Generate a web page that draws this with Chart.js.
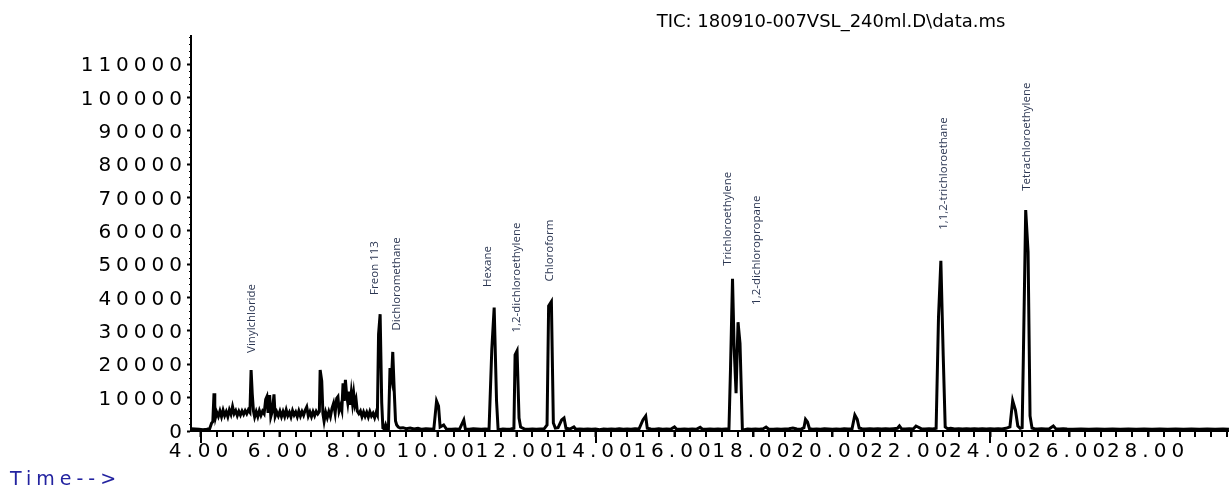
<!DOCTYPE html>
<html>
<head>
<meta charset="utf-8">
<title>TIC: 180910-007VSL_240ml.D\data.ms</title>
<script src="https://cdn.jsdelivr.net/npm/chart.js@4.4.1/dist/chart.umd.min.js"></script>
<style>
	html, body { margin: 0; padding: 0; background: #fff; }
	#tic { display: block; }
</style>
</head>
<body>
<canvas id="tic" width="1229" height="486"></canvas>
<script>
	// retention time (min) and total ion current
	const RT = [
		3.75, 3.85, 3.95, 4.05, 4.15, 4.22, 4.27, 4.30, 4.33, 4.35,
		4.37, 4.40, 4.44, 4.48, 4.52, 4.56, 4.60, 4.64, 4.68, 4.72,
		4.76, 4.80, 4.84, 4.88, 4.92, 4.96, 5.00, 5.04, 5.08, 5.12,
		5.16, 5.20, 5.24, 5.27, 5.30, 5.33, 5.36, 5.40, 5.44, 5.48,
		5.52, 5.56, 5.60, 5.64, 5.67, 5.70, 5.74, 5.77, 5.81, 5.85,
		5.88, 5.92, 5.96, 6.00, 6.04, 6.08, 6.12, 6.16, 6.20, 6.24,
		6.28, 6.32, 6.36, 6.40, 6.44, 6.48, 6.52, 6.56, 6.60, 6.64,
		6.68, 6.72, 6.76, 6.80, 6.84, 6.88, 6.92, 6.96, 7.00, 7.02,
		7.06, 7.09, 7.12, 7.16, 7.20, 7.24, 7.28, 7.32, 7.36, 7.40,
		7.44, 7.47, 7.50, 7.54, 7.57, 7.60, 7.63, 7.66, 7.69, 7.72,
		7.75, 7.78, 7.81, 7.84, 7.87, 7.90, 7.93, 7.96, 8.00, 8.04,
		8.08, 8.12, 8.16, 8.20, 8.24, 8.28, 8.32, 8.36, 8.40, 8.44,
		8.47, 8.50, 8.54, 8.58, 8.61, 8.65, 8.68, 8.71, 8.75, 8.79,
		8.83, 8.86, 8.90, 8.93, 8.96, 9.00, 9.05, 9.12, 9.20, 9.30,
		9.40, 9.50, 9.60, 9.70, 9.80, 9.90, 9.97, 10.02, 10.06, 10.15,
		10.22, 10.35, 10.45, 10.55, 10.66, 10.70, 10.80, 10.90, 11.00, 11.10,
		11.20, 11.30, 11.37, 11.43, 11.49, 11.53, 11.65, 11.75, 11.85, 11.93,
		11.96, 12.01, 12.06, 12.10, 12.20, 12.30, 12.40, 12.50, 12.60, 12.70,
		12.77, 12.81, 12.88, 12.93, 12.98, 13.05, 13.14, 13.20, 13.25, 13.35,
		13.45, 13.50, 13.60, 13.70, 13.80, 13.90, 14.00, 14.10, 14.20, 14.30,
		14.40, 14.50, 14.60, 14.70, 14.80, 14.90, 15.00, 15.10, 15.20, 15.27,
		15.31, 15.40, 15.50, 15.60, 15.70, 15.80, 15.90, 16.00, 16.05, 16.15,
		16.25, 16.35, 16.45, 16.55, 16.65, 16.70, 16.80, 16.90, 17.00, 17.10,
		17.20, 17.30, 17.38, 17.42, 17.47, 17.51, 17.56, 17.61, 17.66, 17.72,
		17.77, 17.85, 17.95, 18.05, 18.15, 18.25, 18.32, 18.38, 18.50, 18.60,
		18.70, 18.80, 18.90, 19.00, 19.10, 19.20, 19.28, 19.32, 19.37, 19.42,
		19.50, 19.60, 19.70, 19.80, 19.90, 20.00, 20.10, 20.20, 20.30, 20.40,
		20.50, 20.57, 20.63, 20.68, 20.75, 20.85, 20.95, 21.05, 21.15, 21.25,
		21.35, 21.45, 21.55, 21.65, 21.70, 21.75, 21.85, 21.95, 22.05, 22.12,
		22.17, 22.25, 22.35, 22.45, 22.55, 22.63, 22.69, 22.75, 22.81, 22.86,
		22.92, 23.00, 23.10, 23.20, 23.30, 23.40, 23.50, 23.60, 23.70, 23.80,
		23.90, 24.00, 24.10, 24.20, 24.30, 24.40, 24.50, 24.57, 24.64, 24.70,
		24.76, 24.81, 24.84, 24.90, 24.96, 25.01, 25.06, 25.12, 25.20, 25.30,
		25.40, 25.50, 25.60, 25.66, 25.75, 25.85, 25.95, 26.10, 26.30, 26.50,
		26.70, 26.90, 27.10, 27.30, 27.50, 27.70, 27.90, 28.10, 28.30, 28.50,
		28.70, 28.90, 29.10, 29.30, 29.50, 29.70, 29.90, 30.05
	];
	const TIC = [
		700, 600, 500, 400, 500, 700, 2400, 2800, 11300, 7600,
		4200, 5600, 4400, 6000, 4300, 6200, 4600, 5800, 4300, 6300,
		5000, 7300, 5200, 6100, 4600, 5900, 4800, 6000, 5000, 6100,
		5200, 6300, 5600, 18300, 11000, 6000, 4200, 5800, 4300, 6100,
		4700, 5900, 5200, 9500, 10300, 5400, 10800, 4300, 6000, 11000,
		4400, 5700, 4500, 5900, 4300, 5800, 4400, 6300, 4600, 5600,
		4200, 6100, 4800, 5700, 4300, 6000, 4500, 5800, 4700, 6200,
		7200, 4500, 5700, 4300, 5800, 4600, 5900, 5100, 5800, 18300,
		15000, 5200, 2900, 5600, 4000, 5800, 4300, 6800, 8300, 5400,
		9800, 10300, 6000, 7600, 6200, 14300, 9000, 15300, 11000, 8500,
		11800, 7800, 11500, 8300, 11300, 8000, 9400, 6000, 5200, 6000,
		4300, 5700, 4400, 5600, 4200, 5800, 4500, 5300, 4000, 5600,
		4800, 29000, 35000, 8500, 900, 600, 1800, 700, 500, 18900,
		16000, 23700, 11200, 3000, 1800, 1200, 900, 1000, 700, 900,
		600, 800, 500, 700, 600, 500, 9000, 7500, 1200, 1800,
		600, 500, 600, 500, 3300, 600, 500, 700, 600, 500,
		600, 500, 24500, 37000, 9000, 400, 600, 500, 600, 800,
		22800, 24000, 3900, 1200, 600, 500, 600, 500, 600, 700,
		1800, 37500, 38800, 2400, 900, 1000, 3300, 3900, 800, 600,
		1200, 500, 600, 500, 600, 500, 600, 400, 600, 500,
		600, 500, 700, 500, 600, 500, 700, 600, 3300, 4500,
		800, 600, 500, 700, 500, 600, 500, 1200, 600, 500,
		600, 500, 600, 500, 1100, 600, 500, 600, 500, 600,
		500, 600, 700, 19000, 45600, 25300, 11300, 32600, 26300, 500,
		400, 600, 500, 600, 500, 700, 1200, 600, 500, 600,
		500, 600, 700, 900, 600, 500, 1000, 3500, 2700, 700,
		500, 600, 500, 700, 600, 500, 600, 500, 700, 600,
		700, 4800, 3500, 900, 700, 600, 700, 600, 700, 600,
		700, 600, 700, 800, 1500, 700, 600, 700, 600, 1500,
		1200, 700, 600, 700, 600, 800, 34000, 51000, 22500, 1200,
		700, 800, 600, 700, 600, 700, 600, 700, 600, 700,
		600, 700, 600, 700, 600, 800, 1200, 9100, 6300, 1500,
		800, 1000, 21800, 66200, 53700, 4500, 900, 700, 600, 700,
		600, 700, 1500, 700, 600, 700, 600, 500, 600, 500,
		600, 500, 600, 500, 600, 500, 600, 500, 600, 500,
		600, 500, 600, 500, 600, 500, 600, 500
	];

	// compound annotations: name, retention time, intensity where the label starts
	const PEAK_NAMES = [
		'Vinylchloride', 'Freon 113', 'Dichloromethane', 'Hexane', '1,2-dichloroethylene',
		'Chloroform', 'Trichloroethylene', '1,2-dichloropropane', '1,1,2-trichloroethane', 'Tetrachloroethylene'
	];
	const PEAK_RT = [5.285, 8.41, 8.96, 11.26, 12.0, 12.84, 17.36, 18.08, 22.81, 24.92];
	const PEAK_LABEL_AT = [23400, 40800, 30100, 43200, 29500, 44800, 49500, 37800, 60300, 72000];

	const X_TICKS = [4, 6, 8, 10, 12, 14, 16, 18, 20, 22, 24, 26, 28];
	const Y_TICKS = [0, 10000, 20000, 30000, 40000, 50000, 60000, 70000, 80000, 90000, 100000, 110000];

	const TITLE = 'TIC: 180910-007VSL_240ml.D\\data.ms';
	const X_LABEL = 'Time-->';

	const X_MIN = 3.747, X_MAX = 30.052;
	const Y_MAX = 118400;

	const axisFont = { family: 'DejaVu Sans', size: 20 };

	const chromatogramDecor = {
		id: 'chromatogramDecor',
		beforeDraw(chart) {
			// the instrument font is wide; stretch tick labels a bit
			chart.ctx.letterSpacing = '5px';
		},
		beforeDatasetsDraw(chart) {
			const { ctx, scales: { x, y } } = chart;
			ctx.save();
			ctx.letterSpacing = '0px';
			ctx.strokeStyle = '#000';
			ctx.lineWidth = 2;
			ctx.beginPath();
			// minor time ticks every 0.4 min, long ones every 10 min
			for (let i = 0; i <= 65; i++) {
				const t = 4 + i * 0.4;
				if (t > X_MAX) break;
				const px = Math.round(x.getPixelForValue(t));
				const len = (i % 25 === 0) ? 12 : 6;
				ctx.moveTo(px, x.top);
				ctx.lineTo(px, x.top + len);
			}
			ctx.stroke();
			ctx.lineWidth = 1;
			ctx.beginPath();
			for (let v = 2000; v < Y_MAX; v += 2000) {
				if (v % 10000 === 0) continue;
				const py = Math.round(y.getPixelForValue(v)) + 0.5;
				ctx.moveTo(y.right - 2, py);
				ctx.lineTo(y.right, py);
			}
			ctx.stroke();
			ctx.restore();
			ctx.letterSpacing = '0px';
		},
		afterDraw(chart) {
			const { ctx, scales: { x, y } } = chart;
			ctx.save();
			ctx.letterSpacing = '0px';

			ctx.fillStyle = '#000';
			ctx.font = '18px "DejaVu Sans"';
			ctx.textAlign = 'center';
			ctx.textBaseline = 'alphabetic';
			ctx.fillText(TITLE, 831, 27);

			ctx.fillStyle = '#2323a0';
			ctx.font = '19px "DejaVu Sans"';
			ctx.letterSpacing = '5px';
			ctx.textAlign = 'left';
			ctx.fillText(X_LABEL, 10, 485);
			ctx.letterSpacing = '0px';

			ctx.fillStyle = '#2b3652';
			ctx.font = '11.5px "Open Sans"';
			ctx.textBaseline = 'middle';
			PEAK_NAMES.forEach((name, i) => {
				ctx.save();
				ctx.translate(x.getPixelForValue(PEAK_RT[i]), y.getPixelForValue(PEAK_LABEL_AT[i]));
				ctx.rotate(-Math.PI / 2);
				ctx.fillText(name, 0, 0);
				ctx.restore();
			});
			ctx.restore();
		}
	};

	new Chart(document.getElementById('tic'), {
		type: 'line',
		data: {
			datasets: [{
				label: 'TIC',
				data: RT.map((t, i) => ({ x: t, y: TIC[i] })),
				borderColor: '#000',
				borderWidth: 3,
				pointRadius: 0,
				tension: 0,
				fill: false,
				borderJoinStyle: 'miter'
			}]
		},
		options: {
			responsive: false,
			animation: false,
			layout: { padding: { top: 36, left: 0, right: 0, bottom: 0 } },
			plugins: {
				legend: { display: false },
				tooltip: { enabled: false },
				title: { display: false }
			},
			scales: {
				x: {
					type: 'linear',
					min: X_MIN,
					max: X_MAX,
					afterBuildTicks: axis => { axis.ticks = X_TICKS.map(v => ({ value: v })); },
					afterFit: axis => { axis.height = 55; },
					border: { display: true, color: '#000', width: 2 },
					grid: { drawOnChartArea: false, drawTicks: true, tickLength: 6, tickWidth: 2, tickColor: '#000' },
					ticks: {
						autoSkip: false,
						maxRotation: 0,
						padding: 3,
						color: '#000',
						font: axisFont,
						callback: v => Number(v).toFixed(2)
					}
				},
				y: {
					min: 0,
					max: Y_MAX,
					afterBuildTicks: axis => { axis.ticks = Y_TICKS.map(v => ({ value: v })); },
					afterFit: axis => { axis.width = 191; },
					border: { display: true, color: '#000', width: 2 },
					grid: { drawOnChartArea: false, drawTicks: true, tickLength: 4, tickWidth: 2, tickColor: '#000' },
					ticks: {
						padding: 0,
						labelOffset: 2,
						color: '#000',
						font: axisFont,
						callback: v => String(v)
					}
				}
			}
		},
		plugins: [chromatogramDecor]
	});
</script>
</body>
</html>
